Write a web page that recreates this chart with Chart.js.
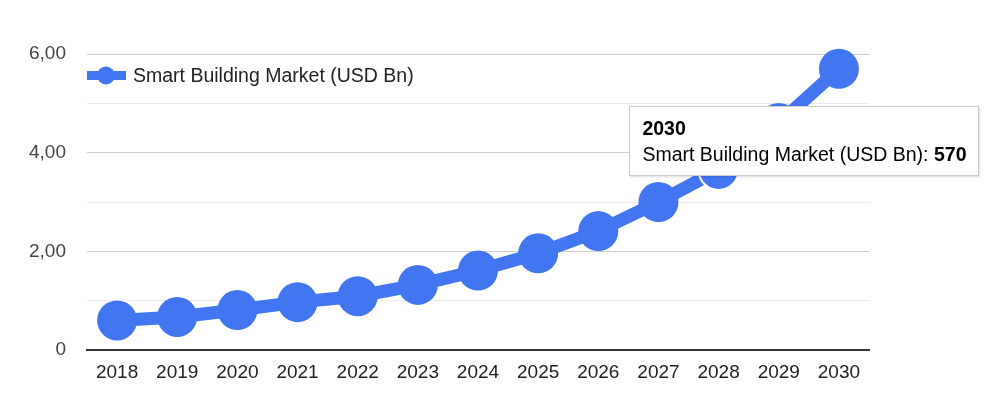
<!DOCTYPE html>
<html>
<head>
<meta charset="utf-8">
<script src="https://cdn.jsdelivr.net/npm/chart.js@4/dist/chart.umd.min.js"></script>
<style>
  html, body { margin: 0; padding: 0; background: #fff; }
  #wrap { position: relative; width: 987px; height: 394px; }
  #tip {
    position: absolute; background: #fff; border: 1px solid #cccccc;
    box-shadow: 1px 1px 2px rgba(0,0,0,0.15);
    font-family: Arial, "Liberation Sans", sans-serif; font-size: 19.5px; color: #000;
    padding: 8px 12px 8px 12px; white-space: nowrap; line-height: 26px; display: none;
  }
  #tip b { font-weight: bold; }
</style>
</head>
<body>
<div id="wrap">
  <canvas id="c" width="987" height="394"></canvas>
  <div id="tip"></div>
</div>
<script>
const categories = ['2018','2019','2020','2021','2022','2023','2024','2025','2026','2027','2028','2029','2030'];
const seriesName = 'Smart Building Market (USD Bn)';
const marketValues = [60, 67, 81, 97, 109, 132, 161, 196, 241, 300, 365, 460, 570];
const yTickValues = [0, 200, 400, 600];
const yTickLabels = ['0', '2,00', '4,00', '6,00'];
const tooltipIndex = 12;

const BLUE = '#4275f0';
const FONT = 'Arial, "Liberation Sans", sans-serif';

const legendPlugin = {
  id: 'insideLegend',
  afterDraw(chart) {
    const ctx = chart.ctx, a = chart.chartArea;
    const y = 75.5;
    ctx.save();
    ctx.strokeStyle = BLUE; ctx.lineWidth = 9; ctx.lineCap = 'butt';
    ctx.beginPath(); ctx.moveTo(a.left, y); ctx.lineTo(a.left + 39, y); ctx.stroke();
    ctx.fillStyle = BLUE;
    ctx.beginPath(); ctx.arc(a.left + 19, y, 9, 0, Math.PI * 2); ctx.fill();
    ctx.fillStyle = '#222';
    ctx.font = '19.5px ' + FONT;
    ctx.textBaseline = 'middle';
    ctx.fillText(chart.data.datasets[0].label, a.left + 46, y + 1);
    ctx.restore();
  }
};

const ringIdx = 10;

const chart = new Chart(document.getElementById('c'), {
  type: 'line',
  data: {
    labels: categories,
    datasets: [{
      label: seriesName,
      data: marketValues,
      borderColor: BLUE,
      backgroundColor: BLUE,
      borderWidth: 13,
      pointRadius: 20,
      pointHoverRadius: 20,
      pointBackgroundColor: BLUE,
      pointBorderColor: marketValues.map((v, i) => i === ringIdx ? '#ffffff' : BLUE),
      pointBorderWidth: marketValues.map((v, i) => i === ringIdx ? 2 : 0),
      pointHoverBorderWidth: marketValues.map((v, i) => i === ringIdx ? 2 : 0),
      tension: 0,
      clip: false
    }]
  },
  options: {
    responsive: false,
    animation: false,
    events: [],
    layout: { padding: { top: 54, right: 118, bottom: 0, left: 0 } },
    plugins: {
      legend: { display: false },
      tooltip: {
        enabled: false,
        external(context) {
          const tip = document.getElementById('tip');
          const t = context.tooltip;
          if (!t || t.opacity === 0 || !t.dataPoints || !t.dataPoints.length) { tip.style.display = 'none'; return; }
          const dp = t.dataPoints[0];
          tip.innerHTML = '<b>' + dp.label + '</b><br>' + dp.dataset.label + ': <b>' + dp.raw + '</b>';
          tip.style.display = 'block';
          tip.style.left = (dp.element.x - 209.5) + 'px';
          tip.style.top = (dp.element.y + 37.5) + 'px';
        }
      }
    },
    scales: {
      x: {
        offset: true,
        grid: { display: false, drawTicks: false },
        border: { display: true, color: '#333', width: 2 },
        ticks: { color: '#222', font: { family: FONT, size: 19 }, padding: 11, maxRotation: 0 },
        afterFit(s) { s.height = 44; }
      },
      y: {
        min: 0, max: 600,
        ticks: {
          stepSize: 100,
          color: '#444',
          font: { family: FONT, size: 19 },
          padding: 21,
          callback(v) { const k = yTickValues.indexOf(v); return k >= 0 ? yTickLabels[k] : ''; }
        },
        grid: {
          drawTicks: false,
          color(ctx) { const v = ctx.tick && ctx.tick.value; return (v % 200 === 0) ? '#cccccc' : '#ebebeb'; },
          lineWidth: 1
        },
        border: { display: false },
        afterFit(s) { s.width = 87; }
      }
    }
  },
  plugins: [legendPlugin]
});

chart.tooltip.setActiveElements([{ datasetIndex: 0, index: tooltipIndex }], { x: 0, y: 0 });
chart.update();
</script>
</body>
</html>
